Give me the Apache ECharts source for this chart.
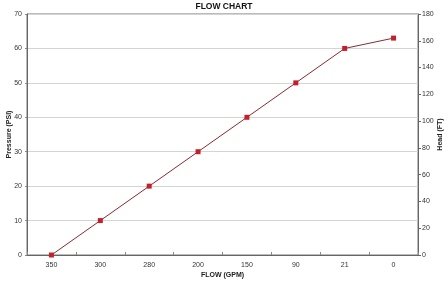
<!DOCTYPE html>
<html><head><meta charset="utf-8">
<script src="https://cdn.jsdelivr.net/npm/echarts@6/dist/echarts.min.js"></script>
<style>html,body{margin:0;padding:0;background:#fff}#c{width:448px;height:281px}</style>
</head><body><div id="c"></div>
<script>
const categories = ['350','300','280','200','150','90','21','0'];
const pressure = [0,10,20,30,40,50,60,63];
const chart = echarts.init(document.getElementById('c'), null, {renderer:'canvas'});
const F = 'Liberation Sans, Arial, sans-serif';
chart.setOption({
  animation:false,
  title:{text:'FLOW CHART',left:'center',top:0,padding:[2,5,2,5],textStyle:{fontFamily:F,fontSize:8.5,fontWeight:'bold',color:'#111'}},
  grid:{left:27,right:30,top:14,bottom:26,show:true,borderColor:'#777',borderWidth:1,containLabel:false,outerBoundsMode:'none'},
  xAxis:{type:'category',data:categories,boundaryGap:true,
    name:'FLOW (GPM)',nameLocation:'middle',nameGap:17,nameMoveOverlap:false,
    nameTextStyle:{fontFamily:F,fontSize:7,fontWeight:'bold',color:'#222'},
    axisLine:{lineStyle:{color:'#666'}},axisTick:{show:true,length:3,inside:true,lineStyle:{color:'#888'}},
    axisLabel:{fontFamily:F,fontSize:7,color:'#333',margin:7}},
  yAxis:[{type:'value',min:0,max:70,interval:10,
    name:'Pressure (PSI)',nameLocation:'middle',nameGap:14,nameRotate:90,nameMoveOverlap:false,
    nameTextStyle:{fontFamily:F,fontSize:7,fontWeight:'bold',color:'#222'},
    axisLine:{show:true,lineStyle:{color:'#666'}},axisTick:{show:true,length:2,lineStyle:{color:'#888'}},
    axisLabel:{fontFamily:F,fontSize:7,color:'#333',margin:5},
    splitLine:{lineStyle:{color:'#d4d4d4',width:1}}},
   {type:'value',min:0,max:180,interval:20,position:'right',
    name:'Head (FT)',nameLocation:'middle',nameGap:19,nameRotate:90,nameMoveOverlap:false,
    nameTextStyle:{fontFamily:F,fontSize:7,fontWeight:'bold',color:'#222'},
    axisLine:{show:true,lineStyle:{color:'#666'}},axisTick:{show:true,length:3,lineStyle:{color:'#666'}},
    axisLabel:{fontFamily:F,fontSize:7,color:'#333',margin:4},
    splitLine:{show:false}}],
  series:[{type:'line',data:pressure,yAxisIndex:0,symbol:'rect',symbolSize:5,
    lineStyle:{color:'#8b2a30',width:1},itemStyle:{color:'#c4202c'}}]
});
</script></body></html>
